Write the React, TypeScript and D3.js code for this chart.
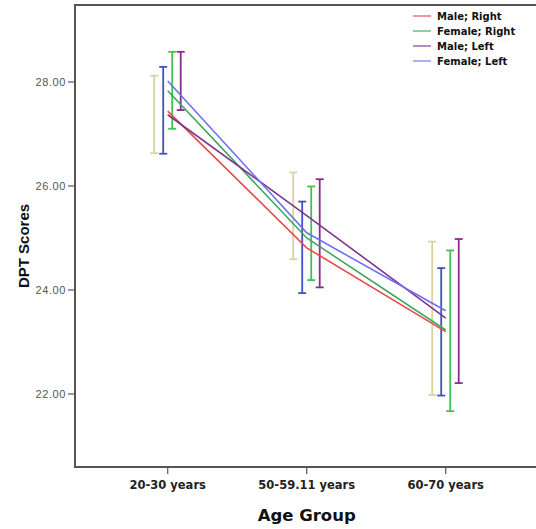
import React from 'react'
import * as d3 from 'd3'

const groups = ['20-30 years', '50-59.11 years', '60-70 years']
const yTicks = [22, 24, 26, 28]

// mean lines
const seriesNames = ['Male; Right', 'Female; Right', 'Male; Left', 'Female; Left']
const maleRight = [27.44, 24.81, 23.2]
const femaleRight = [27.83, 25.0, 23.23]
const maleLeft = [27.37, 25.43, 23.46]
const femaleLeft = [28.02, 25.1, 23.6]

// error bars (low / high), drawn in cluster order
const tanLow = [26.63, 24.59, 21.98]
const tanHigh = [28.12, 26.26, 24.93]
const blueLow = [26.62, 23.94, 21.97]
const blueHigh = [28.29, 25.7, 24.42]
const greenLow = [27.1, 24.19, 21.67]
const greenHigh = [28.58, 25.99, 24.76]
const purpleLow = [27.46, 24.05, 22.21]
const purpleHigh = [28.58, 26.13, 24.98]

const lineColors = ['#e8474b', '#3ea85c', '#7e358f', '#6f6ff5']
const barColors = ['#d9d3a3', '#3f50c4', '#3fc24e', '#8a2a8e']

const App = () => {
  const width = 536
  const height = 529
  const margin = { top: 5, left: 75, bottom: 467 }

  const x = d3.scalePoint<string>()
    .domain(groups)
    .range([margin.left, margin.left + 139 * (2 + 2 * 0.667)])
    .padding(0.667)

  const y = d3.scaleLinear()
    .domain([20.596, 29.48])
    .range([margin.bottom, margin.top])

  const lineData = [maleRight, femaleRight, maleLeft, femaleLeft]
  const bars = [
    { low: tanLow, high: tanHigh, off: -13.5 },
    { low: blueLow, high: blueHigh, off: -4.5 },
    { low: greenLow, high: greenHigh, off: 4.5 },
    { low: purpleLow, high: purpleHigh, off: 13 },
  ]

  const line = d3.line<number>()
    .x((d, i) => x(groups[i]) as number)
    .y(d => y(d))

  const font = '"DejaVu Sans", Verdana, sans-serif'
  const arial = '"Liberation Sans", Arial, sans-serif'

  return (
    <svg width={width} height={height} style={{ position: 'absolute', left: 0, top: 0, background: '#fff' }} fontFamily={font}>
      {/* frame */}
      <path d={`M${width},${margin.top}H${margin.left}V${margin.bottom}H${width}`} fill="none" stroke="#555" strokeWidth={2} />

      {/* y axis */}
      {yTicks.map(t => (
        <g key={t} transform={`translate(0,${y(t)})`}>
          <line x1={margin.left - 7} x2={margin.left} stroke="#555" strokeWidth={1.2} />
          <text x={margin.left - 9} dy="0.35em" textAnchor="end" fontSize={11} fill="#555" fontFamily={arial} letterSpacing={0.6}>{t.toFixed(2)}</text>
        </g>
      ))}
      <text transform={`translate(29,246) rotate(-90)`} textAnchor="middle" fontSize={15} fontWeight="bold" fill="#111" fontFamily={arial}>DPT Scores</text>

      {/* x axis */}
      {groups.map(g => (
        <g key={g} transform={`translate(${x(g)},0)`}>
          <line y1={margin.bottom} y2={margin.bottom + 7} stroke="#555" strokeWidth={1.2} />
          <text y={489} textAnchor="middle" fontSize={11.5} fontWeight="bold" fill="#222">{g}</text>
        </g>
      ))}
      <text x={x(groups[1])} y={521} textAnchor="middle" fontSize={16.5} fontWeight="bold" fill="#111">Age Group</text>

      {/* error bars */}
      {bars.map((b, k) => (
        <g key={k} stroke={barColors[k]} strokeWidth={1.8}>
          {groups.map((g, i) => {
            const cx = (x(g) as number) + b.off
            return (
              <g key={g}>
                <line x1={cx} x2={cx} y1={y(b.low[i])} y2={y(b.high[i])} />
                <line x1={cx - 4} x2={cx + 4} y1={y(b.low[i])} y2={y(b.low[i])} />
                <line x1={cx - 4} x2={cx + 4} y1={y(b.high[i])} y2={y(b.high[i])} />
              </g>
            )
          })}
        </g>
      ))}

      {/* mean lines */}
      {lineData.map((s, k) => (
        <path key={k} d={line(s) || ''} fill="none" stroke={lineColors[k]} strokeWidth={1.6} />
      ))}

      {/* legend */}
      {seriesNames.map((n, k) => (
        <g key={n} transform={`translate(413,${16 + k * 15})`}>
          <line x1={0} x2={18} stroke={lineColors[k]} strokeWidth={1.5} opacity={0.75} />
          <text x={24} dy="0.35em" fontSize={10} fontWeight="bold" fill="#111">{n}</text>
        </g>
      ))}
    </svg>
  )
}

export default App
